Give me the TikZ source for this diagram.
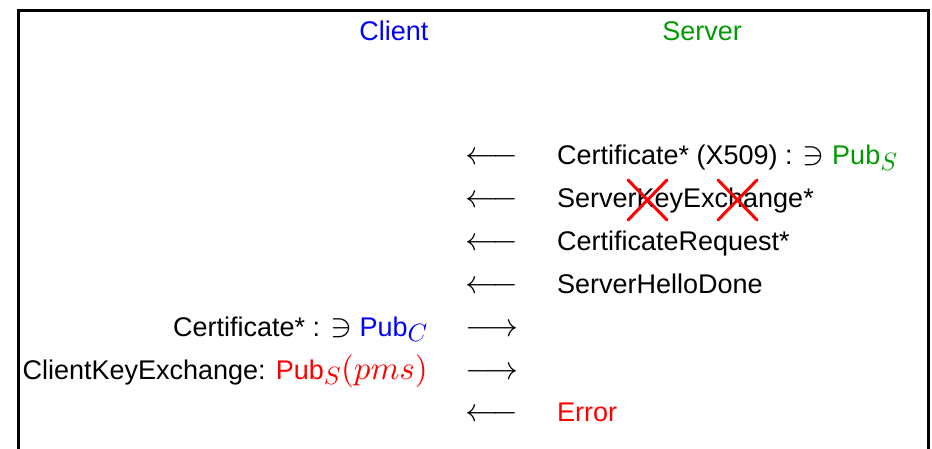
\documentclass[tikz,border=0pt]{standalone}
\usepackage[no-math]{fontspec}
\setmainfont{Liberation Sans}[Scale=0.818]
% freely scalable Computer Modern for the math parts
\DeclareFontShape{OML}{cmm}{m}{it}{<->cmmi10}{}
\DeclareFontShape{OMS}{cmsy}{m}{n}{<->cmsy10}{}
\DeclareFontShape{OT1}{cmr}{m}{n}{<->cmr10}{}
\DeclareFontShape{OMX}{cmex}{m}{n}{<->cmex10}{}
\DeclareMathSizes{33}{33}{25}{20}
\definecolor{srvgreen}{RGB}{0,155,0}
\tikzset{
  msg/.style={inner sep=0pt, font=\fontsize{33}{40}\selectfont},
  srvmsg/.style={msg, anchor=base west},
  climsg/.style={msg, anchor=base east},
  arr/.style={msg, anchor=base},
  cross/.style={red, line width=3pt, line cap=round},
}
\begin{document}
\begin{tikzpicture}[x=1pt, y=-1pt]
  \useasboundingbox (0,0) rectangle (932,449);
  % slide frame, open at the bottom
  \draw[line width=3pt] (18.5,470) -- (18.5,10.5) -- (928.5,10.5) -- (928.5,470);

  % parties
  \node[arr, text=blue] (client) at (394,41) {Client};
  \node[arr, text=srvgreen] (server) at (702,41) {Server};

  % server to client messages
  \node[arr] (a1) at (492,165) {$\longleftarrow$};
  \node[srvmsg] (cert) at (557,165) {Certificate* (X509) : $\ni$ \textcolor{srvgreen}{Pub$_S$}};
  \node[arr] (a2) at (492,208) {$\longleftarrow$};
  \node[srvmsg] (ske) at (557,208) {ServerKeyExchange*};
  \node[arr] (a3) at (492,251) {$\longleftarrow$};
  \node[srvmsg] (creq) at (557,251) {CertificateRequest*};
  \node[arr] (a4) at (492,294) {$\longleftarrow$};
  \node[srvmsg] (shd) at (557,294) {ServerHelloDone};

  % client to server messages
  \node[climsg] (ccert) at (428,336) {Certificate* : $\ni$ \textcolor{blue}{Pub$_C$}};
  \node[arr] (a5) at (492,336) {$\longrightarrow$};
  \node[climsg] (cke) at (428,379) {ClientKeyExchange: \textcolor{red}{Pub$_S(pms)$}};
  \node[arr] (a6) at (492,379) {$\longrightarrow$};

  % failure
  \node[arr] (a7) at (492,421) {$\longleftarrow$};
  \node[srvmsg, text=red] (err) at (557,421) {Error};

  % struck-out ServerKeyExchange
  \draw[cross] (628,180) -- (667,220) (628,220) -- (667,180);
  \draw[cross] (718,180) -- (757,220) (718,220) -- (757,180);
\end{tikzpicture}
\end{document}
